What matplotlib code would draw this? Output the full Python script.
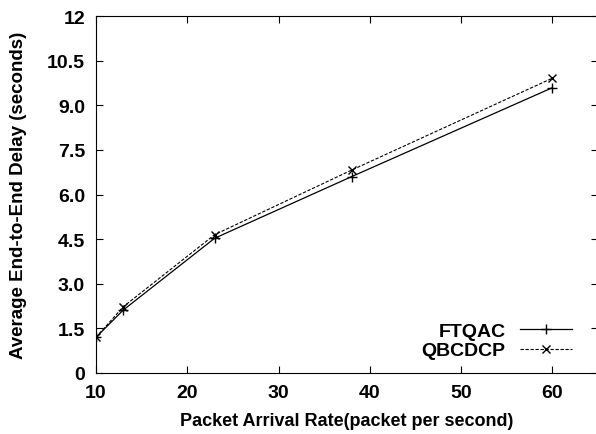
import matplotlib
matplotlib.use("Agg")
import matplotlib.pyplot as plt

# data
rate = [10, 13, 23, 38, 60]
ftqac = [1.2, 2.12, 4.53, 6.60, 9.59]
qbcdcp = [1.2, 2.23, 4.65, 6.82, 9.91]

yticks = [0, 1.5, 3.0, 4.5, 6.0, 7.5, 9.0, 10.5, 12]
ytick_labels = ["0", "1.5", "3.0", "4.5", "6.0", "7.5", "9.0", "10.5", "12"]
xticks = [10, 20, 30, 40, 50, 60]

plt.rcParams['font.family'] = ['Liberation Sans', 'DejaVu Sans']
plt.rcParams['font.weight'] = 'bold'

fig = plt.figure(figsize=(5.96, 4.35), dpi=100)
ax = fig.add_axes([96 / 596, 1 - 374 / 435, (598 - 96) / 596, (374 - 17) / 435])

ax.plot(rate, ftqac, color='black', linestyle='-', marker='+', markersize=7,
        linewidth=0.9, label='FTQAC')
ax.plot(rate, qbcdcp, color='black', linestyle=(0, (3, 1.5)), marker='x', markersize=6,
        linewidth=0.8, label='QBCDCP')

ax.set_xlim(10, 65)
ax.set_ylim(0, 12)
ax.set_xticks(xticks)
ax.set_yticks(yticks)
ax.set_yticklabels(ytick_labels)
ax.tick_params(direction='in', top=True, right=True, length=5, width=0.8,
               labelsize=14, pad=8)
for lab in ax.get_xticklabels() + ax.get_yticklabels():
    lab.set_fontweight('bold')

ax.set_xlabel('Packet Arrival Rate(packet per second)', fontsize=13, fontweight='bold', labelpad=8)
ax.set_ylabel('Average End-to-End Delay (seconds)', fontsize=13.5, fontweight='bold', labelpad=14)

leg = ax.legend(loc='lower right', bbox_to_anchor=(0.975, 0.0), frameon=False,
                markerfirst=False, fontsize=14, handlelength=2.65,
                labelspacing=0.1, borderaxespad=0.3, handletextpad=0.75)
for t in leg.get_texts():
    t.set_fontweight('bold')

fig.savefig('out.png', dpi=100)
